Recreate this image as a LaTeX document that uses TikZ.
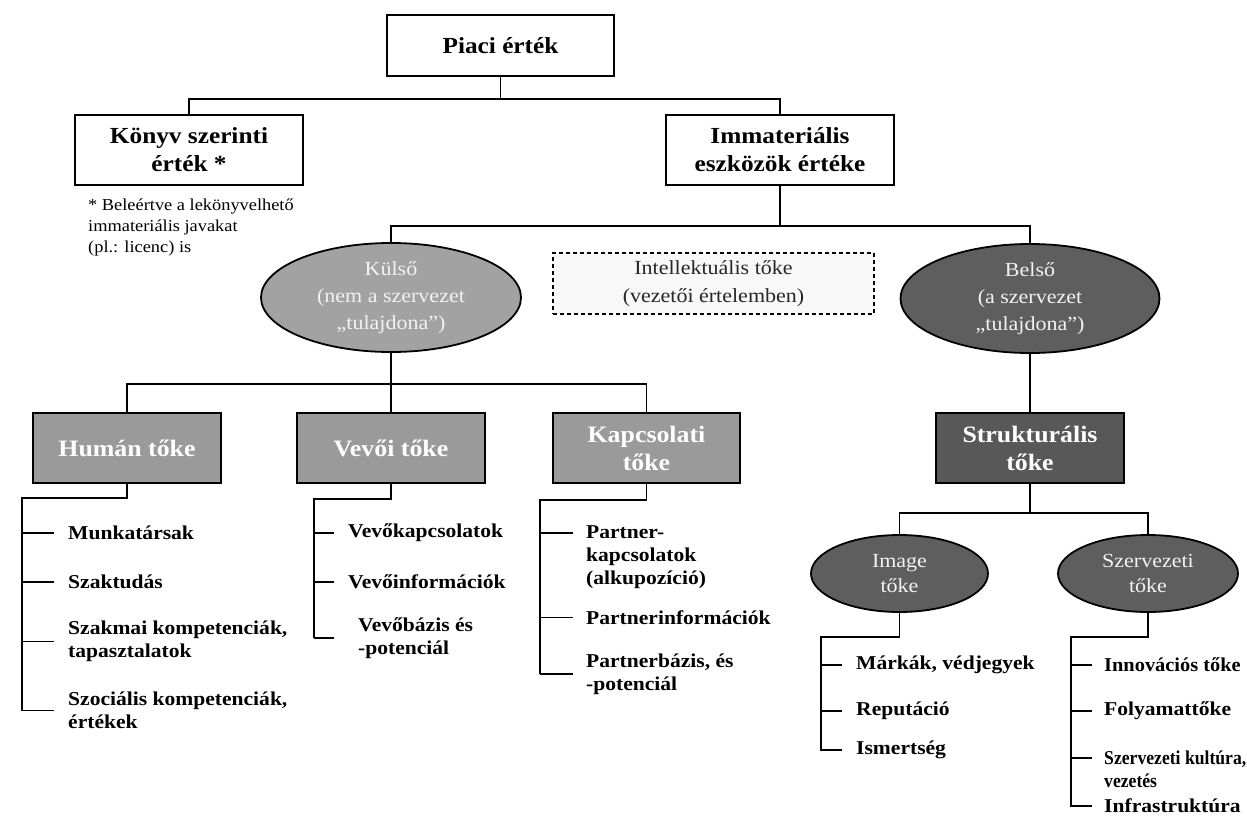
\documentclass[tikz,border=0pt]{standalone}
\usepackage{fontspec}
\setmainfont{Liberation Serif}[FakeStretch=1.1]
\newfontfamily\tightserif{Liberation Serif}[FakeStretch=1.04]
\newfontfamily\condserif{Liberation Serif}[FakeStretch=0.9]
\usetikzlibrary{shapes.geometric}
\definecolor{midgray}{HTML}{A2A2A2}
\definecolor{boxgray}{HTML}{9A9A9A}
\definecolor{deepgray}{HTML}{5E5E5E}
\definecolor{strgray}{HTML}{585858}
\definecolor{lightfill}{HTML}{F8F8F8}
\definecolor{paletext}{HTML}{F2F2F2}
\begin{document}
\begin{tikzpicture}[x=1pt,y=-1pt,
 conn/.style={line width=1.9pt,draw=black},
 tickthick/.style={line width=2.8pt,draw=black},
 whitebox/.style={draw=black,line width=2.2pt,fill=white,inner sep=0pt,align=center,font=\fontsize{23}{28}\selectfont\bfseries},
 capbox/.style={draw=black,line width=2.2pt,inner sep=0pt,align=center,minimum width=188pt,minimum height=70pt,text=white,font=\fontsize{23.5}{28}\selectfont\bfseries},
 ovalnode/.style={ellipse,draw=black,line width=1.8pt,inner sep=0pt,align=center,text=paletext,font=\fontsize{20}{27}\selectfont},
 item/.style={anchor=west,inner sep=0pt,align=left,font=\fontsize{19.6}{23}\selectfont\bfseries},
 note/.style={anchor=west,inner sep=0pt,align=left,font=\fontsize{16.7}{21}\selectfont},
]
\useasboundingbox (0,0) rectangle (1247,822);
\clip (0,0) rectangle (1247,822);

% top level
\node[whitebox,minimum width=227pt,minimum height=61pt] (piaci) at (500.5,45.5) {Piaci érték};
\node[whitebox,minimum width=228pt,minimum height=70pt] (konyv) at (189,150) {Könyv szerinti\\érték *};
\node[whitebox,minimum width=228pt,minimum height=70pt] (immat) at (780,150) {Immateriális\\eszközök értéke};
\node[note] (fn) at (88,227) {* Beleértve a lekönyvelhető\\immateriális javakat\\(pl.: licenc) is};

\draw[conn] (piaci.south) -- ++(0,22) -| (konyv.north);
\draw[conn] (piaci.south) -- ++(0,22) -| (immat.north);

% second level
\node[ovalnode,fill=midgray,minimum width=260pt,minimum height=109pt] (kulso) at (391,297.5) {Külső\\(nem a szervezet\\„tulajdona”)};
\node[draw=black,dash pattern=on 4pt off 3pt,line width=1.9pt,fill=lightfill,inner sep=0pt,minimum width=321pt,minimum height=61pt,align=center,font=\fontsize{20}{28}\selectfont,text=black!85] (intel) at (713.5,283.5) {Intellektuális tőke\\(vezetői értelemben)};
\node[ovalnode,fill=deepgray,minimum width=259pt,minimum height=109pt] (belso) at (1030,298.5) {Belső\\(a szervezet\\„tulajdona”)};

\draw[conn] (immat.south) -- ++(0,40) -| (kulso.north);
\draw[conn] (immat.south) -- ++(0,40) -| (belso.north);

% third level
\node[capbox,fill=boxgray] (human) at (127,448) {Humán tőke};
\node[capbox,fill=boxgray] (vevoi) at (391,448) {Vevői tőke};
\node[capbox,fill=boxgray,minimum width=187pt] (kapcs) at (646.5,448) {Kapcsolati\\tőke};
\node[capbox,fill=strgray] (strukt) at (1030,448) {Strukturális\\tőke};

\draw[conn] (kulso.south) -- ++(0,31) -| (human.north);
\draw[conn] (kulso.south) -- (vevoi.north);
\draw[conn] (kulso.south) -- ++(0,31) -| (kapcs.north);
\draw[conn] (belso.south) -- (strukt.north);

% fourth level ellipses
\node[ovalnode,fill=deepgray,minimum width=177pt,minimum height=77pt,font=\fontsize{20}{25}\selectfont] (image) at (899.5,573.5) {Image\\tőke};
\node[ovalnode,fill=deepgray,minimum width=180pt,minimum height=77pt,font=\fontsize{20}{25}\selectfont] (szerv) at (1148,573.5) {Szervezeti\\tőke};
\draw[conn] (strukt.south) -- ++(0,29) -| (image.north);
\draw[conn] (strukt.south) -- ++(0,29) -| (szerv.north);

% Human list
\node[item] (h1) at (68,533) {Munkatársak};
\node[item] (h2) at (68,582) {Szaktudás};
\node[item] (h3) at (68,641.5) {Szakmai kompetenciák,\\tapasztalatok};
\node[item] (h4) at (68,710.5) {Szociális kompetenciák,\\értékek};
\coordinate (hsT) at (22,498);
\draw[conn] (human.south) |- (hsT) -- (hsT |- h4.west) -- ++(32,0);
\draw[tickthick] (hsT |- h1.west) -- ++(32,0);
\draw[conn] (hsT |- h2.west) -- ++(32,0);
\draw[conn] (hsT |- h3.west) -- ++(32,0);

% Vevoi list
\node[item] (v1) at (348,533) {Vevőkapcsolatok};
\node[item] (v2) at (348,582) {Vevőinformációk};
\node[item] (v3) at (358,638) {Vevőbázis és\\-potenciál};
\coordinate (vsT) at (314,499);
\draw[conn] (vevoi.south) |- (vsT) -- (vsT |- v3.west);
\draw[tickthick] (vsT |- v3.west) -- ++(20,0);
\draw[tickthick] (vsT |- v1.west) -- ++(20,0);
\draw[conn] (vsT |- v2.west) -- ++(20,0);

% Kapcsolati list
\node[item,anchor=north west] (p1) at (586,525) {Partner-\\kapcsolatok\\(alkupozíció)};
\node[item] (p2) at (586,617.5) {Partnerinformációk};
\node[item] (p3) at (586,674) {Partnerbázis, és\\-potenciál};
\coordinate (ksT) at (540,500);
\coordinate (p1t) at ([yshift=-8pt]p1.north west);
\draw[conn] (kapcs.south) |- (ksT) -- (ksT |- p3.west);
\draw[tickthick] (ksT |- p3.west) -- ++(33,0);
\draw[tickthick] (ksT |- p1t) -- ++(33,0);
\draw[conn] (ksT |- p2.west) -- ++(33,0);

% Image list
\node[item] (i1) at (856,665) {Márkák, védjegyek};
\node[item] (i2) at (856,711) {Reputáció};
\node[item] (i3) at (856,750) {Ismertség};
\coordinate (isT) at (821,637);
\draw[conn] (image.south) |- (isT) -- (isT |- i3.west) -- ++(21,0);
\draw[tickthick] (isT |- i1.west) -- ++(21,0);
\draw[conn] (isT |- i2.west) -- ++(21,0);

% Szervezeti list
\node[item,font=\fontsize{19.6}{23}\tightserif\bfseries] (s1) at (1104,665) {Innovációs tőke};
\node[item] (s2) at (1104,711) {Folyamattőke};
\node[item,anchor=north west,font=\fontsize{19.6}{23}\condserif\bfseries] (s3) at (1104,751) {Szervezeti kultúra,\\vezetés};
\node[item] (s4) at (1104,806) {Infrastruktúra};
\coordinate (ssT) at (1071,637);
\coordinate (s3t) at ([yshift=-7pt]s3.north west);
\draw[conn] (szerv.south) |- (ssT) -- (ssT |- s4.west) -- ++(21,0);
\draw[tickthick] (ssT |- s1.west) -- ++(21,0);
\draw[conn] (ssT |- s2.west) -- ++(21,0);
\draw[conn] (ssT |- s3t) -- ++(21,0);
\end{tikzpicture}
\end{document}
